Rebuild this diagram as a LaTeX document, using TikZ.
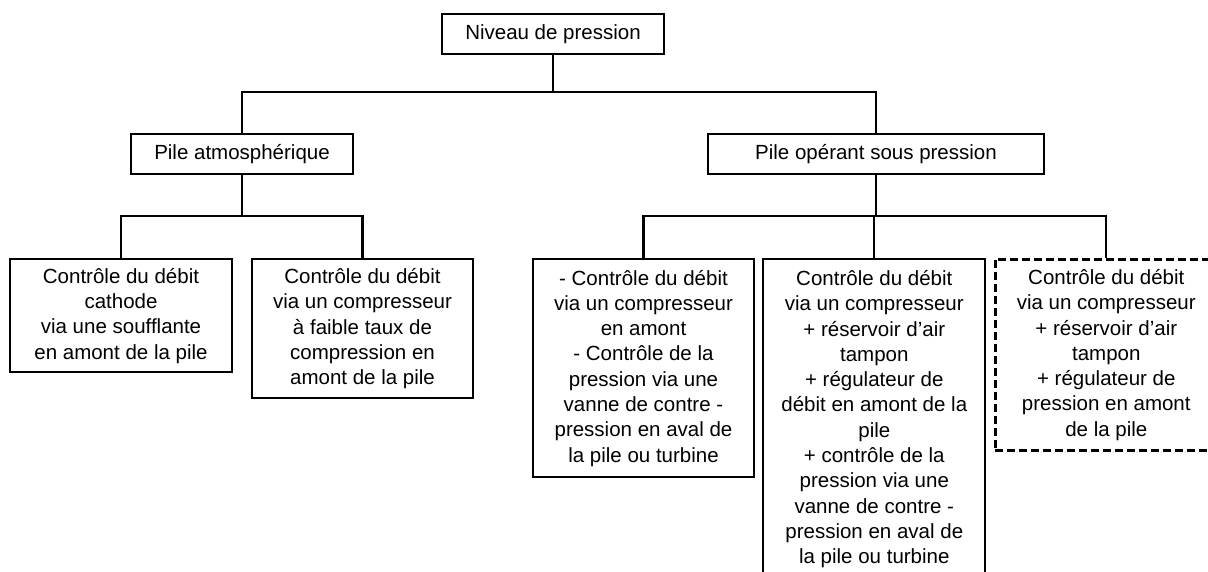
\documentclass[tikz,border=0pt]{standalone}
\usepackage{fontspec}
\setmainfont{Liberation Sans}
\begin{document}
\begin{tikzpicture}[x=1pt,y=1pt,
  box/.style={draw=black, line width=2.3pt, rectangle, anchor=north, align=center,
    inner xsep=4pt, inner ysep=4pt, font=\fontsize{20.5}{25.3}\selectfont},
  dbox/.style={box, dash pattern=on 8pt off 4pt, line width=2.8pt},
  conn/.style={draw=black, line width=2.3pt}]
\useasboundingbox (0,0) rectangle (1208,-572);
\clip (0,0) rectangle (1208,-572);
\node[box, minimum width=222, minimum height=40] (top) at (553,-13) {Niveau de pression};
\node[box, minimum width=222, minimum height=40] (atm) at (242,-133) {Pile atmosphérique};
\node[box, minimum width=336, minimum height=40] (op) at (876,-133) {Pile opérant sous pression};
\node[box, minimum width=222, minimum height=113] (l1) at (121,-258)
  {Contrôle du débit\\cathode\\via une soufflante\\en amont de la pile};
\node[box, minimum width=221, minimum height=139] (l2) at (362.5,-258)
  {Contrôle du débit\\via un compresseur\\à faible taux de\\compression en\\amont de la pile};
\node[box, minimum width=221.6, minimum height=218] (r1) at (643.5,-258)
  {- Contrôle du débit\\via un compresseur\\en amont\\- Contrôle de la\\pression via une\\vanne de contre -\\pression en aval de\\la pile ou turbine};
\node[box, minimum width=222, minimum height=320] (r2) at (874.3,-258)
  {Contrôle du débit\\via un compresseur\\+ réservoir d’air\\tampon\\+ régulateur de\\débit en amont de la\\pile\\+ contrôle de la\\pression via une\\vanne de contre -\\pression en aval de\\la pile ou turbine};
\node[dbox, minimum width=222, minimum height=191] (r3) at (1106.3,-258)
  {Contrôle du débit\\via un compresseur\\+ réservoir d’air\\tampon\\+ régulateur de\\pression en amont\\de la pile};
\coordinate (j1) at (553,-92);
\coordinate (j2) at (242,-216);
\coordinate (j3) at (876,-216);
\draw[conn] (top.south) -- (j1);
\draw[conn] (j1) -| (atm.north);
\draw[conn] (j1) -| (op.north);
\draw[conn] (atm.south) -- (j2);
\draw[conn] (j2) -| (l1.north);
\draw[conn] (j2) -| (l2.north);
\draw[conn] (op.south) -- (j3);
\draw[conn] (j3) -| (r1.north);
\draw[conn] (j3) -| (r2.north);
\draw[conn] (j3) -| (r3.north);
\end{tikzpicture}
\end{document}
